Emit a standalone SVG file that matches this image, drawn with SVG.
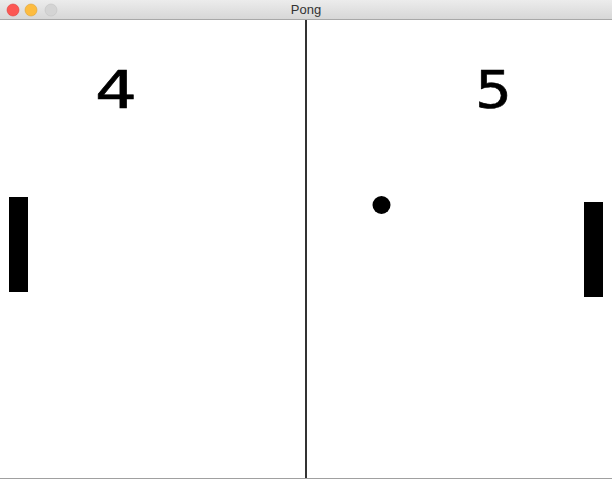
<svg xmlns="http://www.w3.org/2000/svg" width="612" height="480" viewBox="0 0 612 480">
<defs>
<linearGradient id="tb" x1="0" y1="0" x2="0" y2="1">
<stop offset="0" stop-color="#ececec"/>
<stop offset="1" stop-color="#d6d6d6"/>
</linearGradient>
</defs>
<style>
.score{font-family:"DejaVu Sans",sans-serif;font-size:51px;fill:#000;stroke:#000;stroke-width:0.6}
.title{font-family:"Liberation Sans",sans-serif;font-size:13px;fill:#333}
</style>
<rect x="0" y="0" width="612" height="480" fill="#ffffff"/>
<g id="titlebar">
<rect x="0" y="0" width="612" height="20" fill="url(#tb)"/>
<line x1="0" y1="19.5" x2="612" y2="19.5" stroke="#a8a8a8" stroke-width="1"/>
<circle cx="13" cy="10" r="6" fill="#fc5753" stroke="#df3e3a" stroke-width="0.6"/>
<circle cx="31" cy="10" r="6" fill="#fdbc40" stroke="#dea236" stroke-width="0.6"/>
<circle cx="51" cy="10" r="6" fill="#d4d4d4" stroke="#c2c2c2" stroke-width="0.6"/>
<text class="title" x="306" y="14" text-anchor="middle">Pong</text>
</g>
<g id="court">
<rect x="305" y="20" width="2" height="458" fill="#333"/>
<line x1="0" y1="478.5" x2="612" y2="478.5" stroke="#a0a0a0" stroke-width="1"/>
</g>
<g id="scores">
<text class="score" x="95" y="108" textLength="42" lengthAdjust="spacingAndGlyphs">4</text>
<text class="score" x="475" y="108" textLength="37" lengthAdjust="spacingAndGlyphs">5</text>
</g>
<g id="paddles">
<rect x="9" y="197" width="19" height="95" fill="#000"/>
<rect x="584" y="202" width="19" height="95" fill="#000"/>
</g>
<g id="ball">
<circle cx="381.5" cy="205" r="9" fill="#000"/>
</g>
</svg>
